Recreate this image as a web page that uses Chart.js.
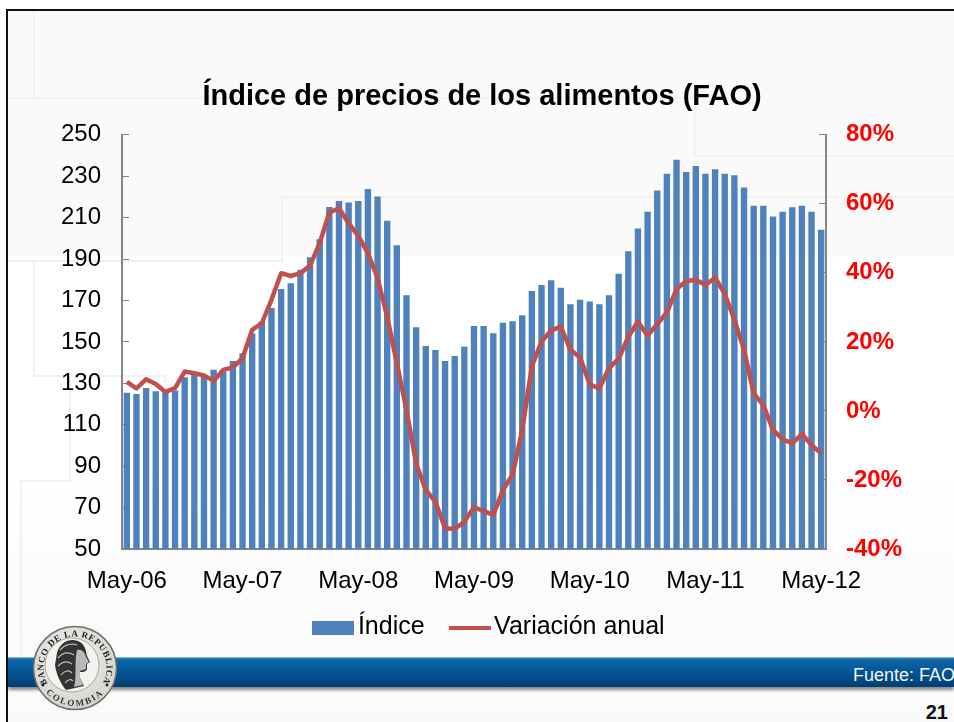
<!DOCTYPE html>
<html><head><meta charset="utf-8">
<script src="https://cdn.jsdelivr.net/npm/chart.js@4"></script>
<style>
html,body{margin:0;padding:0;background:#fff;width:954px;height:722px;overflow:hidden}
.abs{position:absolute}
#frame{left:6px;top:9px;width:948px;height:713px;border-left:2px solid #111;border-top:2px solid #111;box-sizing:border-box;
 background:linear-gradient(#fafafa 0,#fafafa 245px,#fff 245px,#fff 460px,#fbfbfb 590px,#fafafa 100%)}
.ln{position:absolute;background:#f1f1f1}
#band{left:8px;top:657px;width:946px;height:30px;background:linear-gradient(#9cc9e0 0,#1168a8 2px,#055b9c 35%,#003f73 100%);box-shadow:0 3px 3px rgba(0,0,0,.45)}
#src{right:-1px;top:665px;font:18px "Liberation Sans",Arial,sans-serif;color:#f2f6fa;white-space:nowrap}
#page{right:6px;top:701px;font:bold 20px "Liberation Sans",Arial,sans-serif;color:#111}
canvas{position:absolute;left:0;top:0}
#logo{left:30px;top:623px}
</style></head><body>
<div class="abs" id="frame"></div>
<div class="ln" style="left:33px;top:11px;width:2px;height:87px"></div>
<div class="ln" style="left:8px;top:97px;width:687px;height:2px"></div>
<div class="ln" style="left:694px;top:97px;width:2px;height:59px"></div>
<div class="ln" style="left:694px;top:155px;width:260px;height:2px"></div>
<div class="ln" style="left:282px;top:196px;width:672px;height:2px"></div>
<div class="ln" style="left:281px;top:196px;width:2px;height:65px"></div>
<div class="ln" style="left:8px;top:260px;width:275px;height:2px"></div>
<div class="ln" style="left:33px;top:262px;width:2px;height:114px"></div>
<div class="ln" style="left:33px;top:375px;width:132px;height:2px"></div>
<div class="ln" style="left:164px;top:375px;width:2px;height:8px"></div>
<div class="ln" style="left:69px;top:376px;width:2px;height:106px"></div>
<div class="ln" style="left:20px;top:480px;width:50px;height:2px"></div>
<div class="ln" style="left:20px;top:480px;width:2px;height:177px"></div>
<div class="abs" id="band"></div>
<div class="abs" id="src">Fuente: FAO</div>
<div class="abs" id="page">21</div>
<canvas id="c" width="954" height="722"></canvas>
<svg class="abs" id="logo" width="90" height="90" viewBox="0 0 90 90">
 <defs><radialGradient id="ring" cx=".45" cy=".4" r=".7"><stop offset="0" stop-color="#f4f3ee"/><stop offset="1" stop-color="#cfcfca"/></radialGradient></defs>
 <circle cx="45" cy="45" r="41.5" fill="url(#ring)" stroke="#6d6d6d" stroke-width="1.5"/>
 <circle cx="42" cy="42" r="27" fill="#f3f2ee" stroke="#8a8a8a" stroke-width=".7"/>
 <path id="arcTop" d="M17.7 60.75 A31.5 31.5 0 1 1 72.3 60.75" fill="none"/>
 <path id="arcBot" d="M15.9 69.4 A38 38 0 0 0 74.1 69.4" fill="none"/>
 <text font-family="Liberation Serif,serif" font-weight="bold" font-size="9" fill="#222"><textPath href="#arcTop" textLength="130" lengthAdjust="spacing">BANCO DE LA REPUBLICA</textPath></text>
 <text font-family="Liberation Serif,serif" font-weight="bold" font-size="9" fill="#333"><textPath href="#arcBot" textLength="64" lengthAdjust="spacing">COLOMBIA</textPath></text>
 <circle cx="13" cy="62" r="1.4" fill="#222"/><circle cx="77" cy="62" r="1.4" fill="#222"/>
 <path d="M27 30 C30 18 42 14 50 19 C56 23 56 29 57 33 L60 39 L57 41 L57 46 C56 49 53 49 50 49 L50 55 L54 63 L36 67 C30 60 26 50 25 42Z" fill="#333"/>
 <path d="M47 27 C52 26 55 30 56 34 L59 39 L56 41 L56 46 L50 48 L50 55 L53 62 L44 64 C47 54 44 40 47 27Z" fill="#b9b9b9"/>
 <path d="M30 27 C35 21 42 20 47 22 M28 35 C33 29 39 29 44 32 M28 43 C33 38 38 38 42 41 M31 52 C35 47 39 47 42 50 M35 60 C38 56 41 56 43 58" stroke="#bdbdbd" stroke-width="1.2" fill="none"/>
</svg>
<script>
const categories = [
 "May-06","Jun-06","Jul-06","Ago-06","Sep-06","Oct-06","Nov-06","Dic-06","Ene-07","Feb-07","Mar-07","Abr-07",
 "May-07","Jun-07","Jul-07","Ago-07","Sep-07","Oct-07","Nov-07","Dic-07","Ene-08","Feb-08","Mar-08","Abr-08",
 "May-08","Jun-08","Jul-08","Ago-08","Sep-08","Oct-08","Nov-08","Dic-08","Ene-09","Feb-09","Mar-09","Abr-09",
 "May-09","Jun-09","Jul-09","Ago-09","Sep-09","Oct-09","Nov-09","Dic-09","Ene-10","Feb-10","Mar-10","Abr-10",
 "May-10","Jun-10","Jul-10","Ago-10","Sep-10","Oct-10","Nov-10","Dic-10","Ene-11","Feb-11","Mar-11","Abr-11",
 "May-11","Jun-11","Jul-11","Ago-11","Sep-11","Oct-11","Nov-11","Dic-11","Ene-12","Feb-12","Mar-12","Abr-12",
 "May-12"];
const indice = [
 125.5,124.9,127.8,126.2,125.5,126.5,132.9,134.1,133.3,136.5,135.7,140.8,
 144.5,154.0,159.8,166.4,175.5,178.3,184.8,190.9,199.6,215.1,218.0,217.3,
 218.0,223.8,220.2,208.5,196.7,172.5,157.1,148.0,146.1,140.8,143.2,147.6,
 157.7,157.7,154.2,159.3,160.0,162.9,174.6,177.5,179.8,176.1,168.2,170.3,
 169.5,168.2,172.5,182.9,193.8,204.8,212.8,223.1,231.2,237.9,232.0,234.9,
 231.2,233.4,231.2,230.5,224.6,215.7,215.7,210.6,212.8,215.0,215.7,212.8,
 204.1];
const variacion = [
 8.4,6.5,9.2,7.8,5.5,6.6,11.4,10.9,10.3,8.7,11.9,12.6,
 15.3,23.5,25.4,32.2,39.9,39.1,39.9,42.1,48.6,57.5,58.7,54.4,
 50.7,45.7,38.5,27.3,13.8,0.3,-15.2,-22.9,-26.3,-34.0,-34.2,-32.1,
 -27.9,-29.0,-30.1,-22.9,-18.5,-5.5,12.9,20.1,23.3,24.4,17.7,15.5,
 7.7,6.5,12.4,15.1,21.5,25.9,21.8,25.2,28.5,35.3,37.6,38.0,
 36.5,38.6,33.9,26.4,17.7,5.1,1.7,-5.5,-8.2,-9.4,-6.7,-9.9,
 -12.3];
const titleText = "Índice de precios de los alimentos (FAO)";
const seriesNames = ["Índice","Variación anual"];

const BLUE="#4F81BD", RED="#C0504D", AXIS="#868686", FONT='"Liberation Sans",Arial,sans-serif';
function swatch(w,h,color){const s=document.createElement('canvas');s.width=w;s.height=h;
 const x=s.getContext('2d');x.fillStyle=color;x.fillRect(0,0,w,h);return s;}
const swBar=swatch(42,14,BLUE), swLine=swatch(42,4,RED);

const shiftLegend={id:'shiftLegend',afterLayout(ch){const l=ch.legend;l.left+=11;l.right+=11;l.top-=27;l.bottom-=27;}};

new Chart(document.getElementById('c'),{
 data:{labels:categories,datasets:[
  {type:'line',label:seriesNames[1],data:variacion,yAxisID:'y2',borderColor:RED,backgroundColor:RED,borderWidth:4.5,pointRadius:0,tension:0,borderJoinStyle:'round',order:1},
  {type:'bar',label:seriesNames[0],data:indice,yAxisID:'y',backgroundColor:BLUE,categoryPercentage:0.66,barPercentage:1,order:2}
 ]},
 plugins:[shiftLegend],
 options:{
  responsive:false,animation:false,
  layout:{padding:{left:50,right:40,top:80,bottom:45}},
  plugins:{
   title:{display:true,text:titleText,color:'#000',font:{family:FONT,size:29,weight:'bold'},padding:{top:0,bottom:20}},
   legend:{position:'bottom',
    labels:{color:'#000',font:{family:FONT,size:25},usePointStyle:true,pointStyleWidth:24,padding:33,
     sort:(a,b)=>a.datasetIndex===1?-1:1,
     generateLabels(ch){const l=Chart.defaults.plugins.legend.labels.generateLabels(ch);
      l.forEach(i=>{i.pointStyle=i.datasetIndex===1?swBar:swLine;});return l;}}},
   tooltip:{enabled:false}
  },
  scales:{
   x:{offset:true,grid:{display:false,drawTicks:false},border:{color:AXIS,width:2},
      afterFit(s){s.height=60;},
      ticks:{autoSkip:false,maxRotation:0,minRotation:0,color:'#000',padding:18,font:{family:FONT,size:24},
       callback(v,i){return i%12===0?categories[i]:'';}}},
   y:{position:'left',min:50,max:250,
      afterFit(s){s.width=72;},
      grid:{drawOnChartArea:false,tickLength:-7,tickColor:AXIS,tickWidth:1},border:{color:AXIS,width:2},
      ticks:{stepSize:20,color:'#000',padding:28,font:{family:FONT,size:24}}},
   y2:{position:'right',min:-40,max:80,
      afterFit(s){s.width=88;},
      grid:{drawOnChartArea:false,tickLength:-7,tickColor:AXIS,tickWidth:1},border:{color:AXIS,width:2},
      ticks:{stepSize:20,color:'#FF0000',padding:27,font:{family:FONT,size:24,weight:'bold'},callback:v=>v+'%'}}
  }
 }
});
</script></body></html>
